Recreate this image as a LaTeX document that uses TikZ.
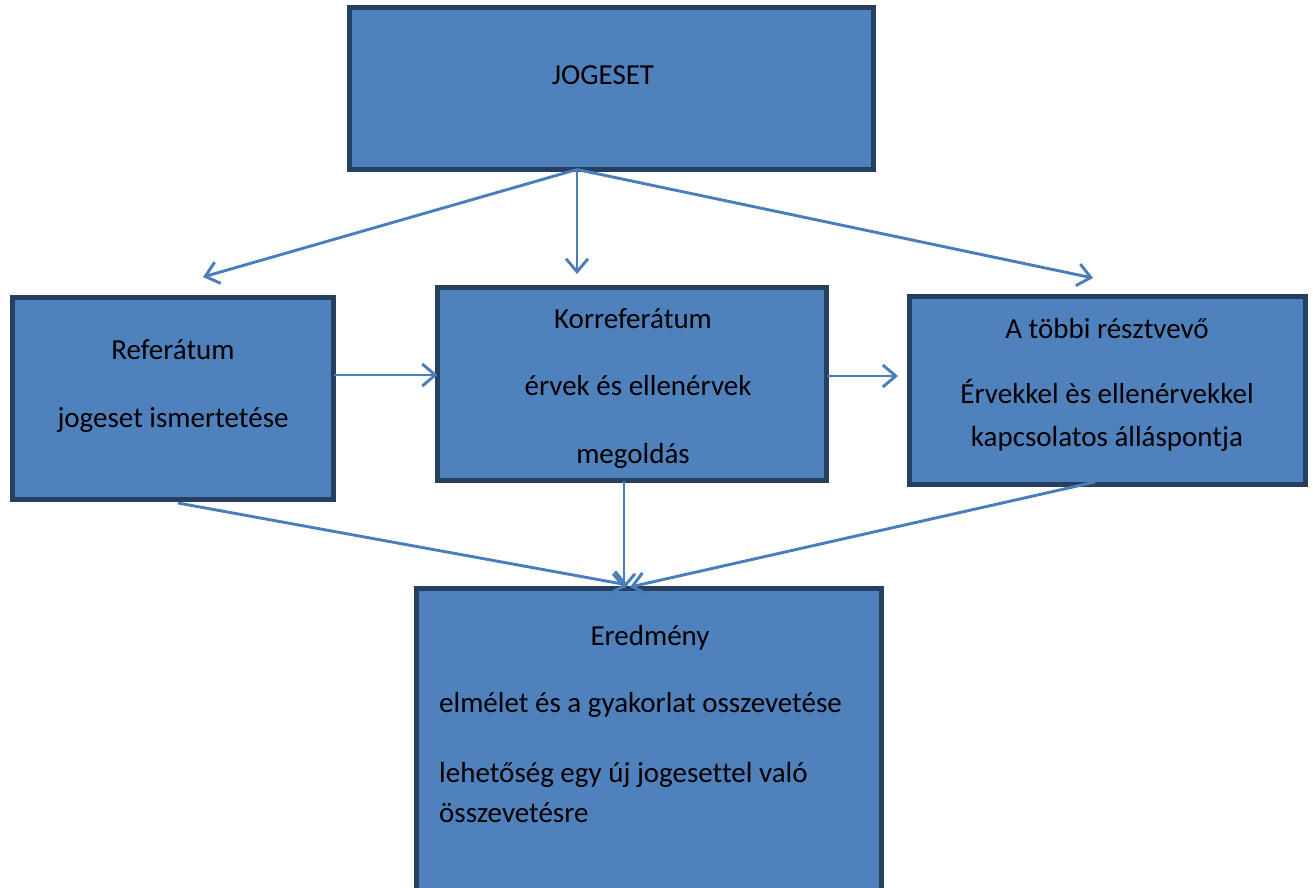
\documentclass[tikz,border=0pt]{standalone}
\usepackage{fontspec}
\setmainfont{Carlito}[Ligatures=NoCommon]
\usetikzlibrary{arrows.meta}
\definecolor{boxfill}{HTML}{4F81BD}
\definecolor{boxline}{HTML}{243F60}
\definecolor{arrowc}{HTML}{4A7EBB}
\tikzset{
  box/.style={draw=boxline, fill=boxfill, line width=5pt, rectangle, inner sep=0pt, outer sep=0pt},
  conn/.style={draw=arrowc, line width=2.9pt, -{Straight Barb[length=13pt,width=22pt,line width=2.9pt]}},
  txt/.style={font=\fontsize{29}{34}\selectfont, text=black, inner sep=0pt, anchor=base},
  ltxt/.style={txt, anchor=base west}
}
\begin{document}
\begin{tikzpicture}[x=1pt,y=-1pt]
\useasboundingbox (0,0) rectangle (1313,887);
\fill[white] (0,0) rectangle (1313,887);
\clip (0,0) rectangle (1313,887);
% boxes
\node[box, minimum width=524pt, minimum height=162pt] (jog) at (611.5,88.5) {};
\node[box, minimum width=321pt, minimum height=202pt] (ref) at (173,398.5) {};
\node[box, minimum width=389pt, minimum height=193pt] (kor) at (632,384) {};
\node[box, minimum width=396pt, minimum height=188pt] (tob) at (1107.5,390.5) {};
\node[box, minimum width=465pt, minimum height=312pt] (ere) at (649,744.5) {};
% texts
\node[txt] (t1) at (603,84) {JOGESET};
\node[txt] (t2) at (173,359) {Referátum};
\node[txt] (t3) at (173,427) {jogeset ismertetése};
\node[txt] (t4) at (633,328) {Korreferátum};
\node[txt] (t5) at (638,395) {érvek és ellenérvek};
\node[txt] (t6) at (633,463) {megoldás};
\node[txt] (t7) at (1107,338) {A többi résztvevő};
\node[txt] (t8) at (1107,403) {Érvekkel ès ellenérvekkel};
\node[txt] (t9) at (1107,446) {kapcsolatos álláspontja};
\node[txt] (t10) at (650,645) {Eredmény};
\node[ltxt] (t11) at (439,712) {elmélet és a gyakorlat osszevetése};
\node[ltxt] (t12) at (439,782) {lehetőség egy új jogesettel való};
\node[ltxt] (t13) at (439,822) {összevetésre};
% connector points
\coordinate (jsrc) at (jog.south -| 577,0);
\coordinate (e1) at (203,277);
\coordinate (e2) at (577,274);
\coordinate (e3) at (1093,278);
\coordinate (rsrc) at (ref.east |- 0,375);
\coordinate (ksrc) at (kor.east |- 0,376);
\coordinate (ktgt) at (kor.west |- 0,375);
\coordinate (e4) at (898,376);
\coordinate (rb) at (178,503);
\coordinate (kb) at (kor.south -| 624,0);
\coordinate (tb) at (1095,482);
\coordinate (g1) at (628,585);
\coordinate (g2) at (624,589);
\coordinate (g3) at (630,587);
% connectors
\draw[conn] (jsrc) -- (e1);
\draw[conn] (jsrc) -- (e2);
\draw[conn] (jsrc) -- (e3);
\draw[conn] (rsrc) -- (ktgt);
\draw[conn] (ksrc) -- (e4);
\draw[conn] (rb) -- (g1);
\draw[conn] (kb) -- (g2);
\draw[conn] (tb) -- (g3);
\end{tikzpicture}
\end{document}
